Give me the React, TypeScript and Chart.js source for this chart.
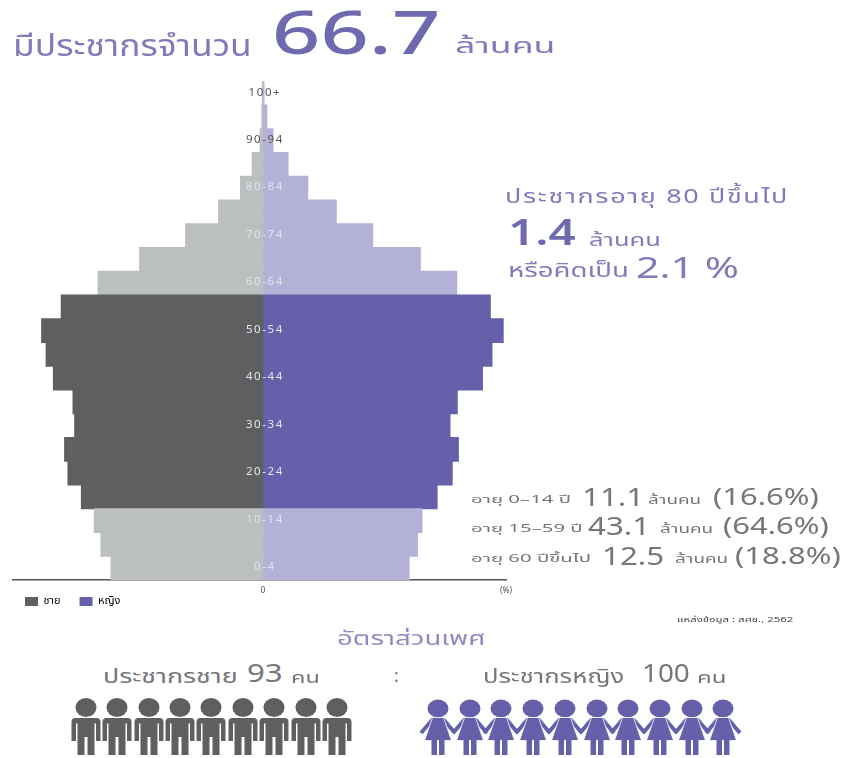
import React, { useEffect, useRef } from "react";
import { Chart, registerables } from "chart.js";

Chart.register(...registerables);

const ages = ["100+","95-99","90-94","85-89","80-84","75-79","70-74","65-69","60-64","55-59","50-54","45-49","40-44","35-39","30-34","25-29","20-24","15-19","10-14","5-9","0-4"];
const shownAges = ["100+","90-94","80-84","70-74","60-64","50-54","40-44","30-34","20-24","10-14","0-4"];
const workingAges = ["55-59","50-54","45-49","40-44","35-39","30-34","25-29","20-24","15-19"];
const malePercent = [0.01,0.02,0.05,0.19,0.40,0.79,1.38,2.20,2.94,3.60,3.95,3.87,3.74,3.39,3.36,3.54,3.48,3.24,3.01,2.89,2.71];
const femalePercent = [0.02,0.07,0.18,0.45,0.80,1.31,1.96,2.81,3.46,4.06,4.29,4.09,3.92,3.47,3.34,3.49,3.38,3.11,2.84,2.76,2.61];
const ageGroups = [["อายุ 0–14 ปี","11.1","(16.6%)"],["อายุ 15–59 ปี","43.1","(64.6%)"],["อายุ 60 ปีขึ้นไป","12.5","(18.8%)"]];
const menCount = ["m1","m2","m3","m4","m5","m6","m7","m8","m9"];
const womenCount = ["w1","w2","w3","w4","w5","w6","w7","w8","w9","w10"];

const FONT = '"Noto Sans Thai","Noto Sans","Open Sans","DejaVu Sans",sans-serif';
const GREY = "#5f5f61", PURPLE = "#6660ab", LIGHT_GREY = "#bcbfc0", LAVENDER = "#b4b1d8", TITLE = "#6f69b0", SOFT = "#807abb", BODY = "#767678";
const X_MIN = -4.47, X_MAX = 4.34;
const groupNumberX = [582, 588, 602];
const groupUnitX = [648, 660, 675];
const groupShareX = [713, 723, 735];
const groupY = [499, 528, 558];

const agePlugin = {
  id: "centerAges",
  beforeDraw(chart: any) {
    const l = chart.legend;
    const p = l.options.labels.padding;
    l.left = 25 - p;
    l.top = 596 - p;
  },
  afterDatasetsDraw(chart: any) {
    const { ctx, scales: { x, y } } = chart;
    ctx.save();
    ctx.font = `11.5px ${FONT}`;
    ctx.letterSpacing = "1.6px";
    ctx.textAlign = "center";
    ctx.textBaseline = "middle";
    shownAges.forEach((age) => {
      ctx.fillStyle = age === "100+" || age === "90-94" ? "#555" : workingAges.includes(age) ? "#e6e6ee" : "#e2e3e8";
      ctx.fillText(age, x.getPixelForValue(0) + 2, y.getPixelForValue(age));
    });
    ctx.restore();
  },
};

function Txt({ x, y, size, color = BODY, children, weight = 400, spacing = 0, sx = 1 }: any) {
  return (
    <span style={{ position: "absolute", left: x, top: y, transform: `translateY(-50%) scaleX(${sx})`, transformOrigin: "left center", fontSize: size, color, fontWeight: weight, letterSpacing: spacing, whiteSpace: "nowrap", lineHeight: 1, fontFamily: FONT }}>
      {children}
    </span>
  );
}

function Man({ cx }: { cx: number }) {
  return (
    <svg style={{ position: "absolute", left: cx - 15, top: 698 }} width={30} height={58} viewBox="0 0 30 58">
      <ellipse cx={15} cy={9.5} rx={10.5} ry={9.5} fill={GREY} />
      <path fill={GREY} d="M4.5 20H25.5Q29.5 20 29.5 24V43H25V25.5H23.5V57H16.5V39H13.5V57H6.5V25.5H5V43H0.5V24Q0.5 20 4.5 20Z" />
    </svg>
  );
}

function Woman({ cx }: { cx: number }) {
  return (
    <svg style={{ position: "absolute", left: cx - 16, top: 698, overflow: "visible" }} width={32} height={58} viewBox="0 0 32 58">
      <ellipse cx={16} cy={10.5} rx={10.5} ry={9} fill={PURPLE} />
      <path stroke={PURPLE} strokeWidth={4} d="M11 21L-1 35M21 21L33 35" />
      <path fill={PURPLE} stroke="#fff" strokeWidth={0.8} d="M10.5 19.5H21.5L29.5 42.5H2.5Z" />
      <rect x={9.5} y={42} width={5.5} height={15} fill={PURPLE} />
      <rect x={17} y={42} width={5.5} height={15} fill={PURPLE} />
    </svg>
  );
}

export default function App() {
  const ref = useRef<HTMLCanvasElement>(null);
  useEffect(() => {
    const chart = new Chart(ref.current!, {
      type: "bar",
      data: {
        labels: ages,
        datasets: [
          { label: "ชาย", data: malePercent.map((v) => -v), backgroundColor: ages.map((a) => (workingAges.includes(a) ? GREY : LIGHT_GREY)) },
          { label: "หญิง", data: femalePercent, backgroundColor: ages.map((a) => (workingAges.includes(a) ? PURPLE : LAVENDER)) },
        ],
      },
      options: {
        indexAxis: "y",
        animation: false,
        responsive: false,
        datasets: { bar: { barPercentage: 1, categoryPercentage: 1, borderWidth: 0, inflateAmount: 0.5 } },
        layout: { padding: { left: 12.5, right: 347, top: 81.3, bottom: 0 } },
        scales: {
          x: {
            stacked: true,
            min: X_MIN,
            max: X_MAX,
            grid: { display: false, drawTicks: false },
            border: { display: true, color: "#555", width: 1.5 },
            afterBuildTicks: (s: any) => { s.ticks = [{ value: 0 }, { value: X_MAX }]; },
            afterFit: (s: any) => { s.height = 16; },
            ticks: {
              autoSkip: false, maxRotation: 0, padding: 6, color: "#555",
              font: { size: 8.5, family: FONT },
              callback: (v: any) => (v === 0 ? "0" : "(%)"),
            },
          },
          y: {
            stacked: true,
            position: { x: 0 } as any,
            afterFit: (s: any) => { s.width = 0; },
            grid: { display: false },
            border: { display: true, color: "#888", width: 1 },
            ticks: { display: false },
          },
        },
        plugins: {
          title: { display: false },
          tooltip: { enabled: false },
          legend: {
            display: true,
            position: "bottom",
            align: "start",
            labels: {
              boxWidth: 13, boxHeight: 9, padding: 19, color: "#555",
              font: { size: 11, family: FONT },
              generateLabels: () => [
                { text: "ชาย", fillStyle: GREY, strokeStyle: GREY, lineWidth: 0, datasetIndex: 0 },
                { text: "หญิง", fillStyle: PURPLE, strokeStyle: PURPLE, lineWidth: 0, datasetIndex: 1 },
              ],
            },
          },
        },
      },
      plugins: [agePlugin],
    });
    return () => chart.destroy();
  }, []);

  return (
    <div style={{ position: "absolute", left: 0, top: 0, width: 853, height: 758, overflow: "hidden", background: "#fff" }}>
      <canvas ref={ref} width={853} height={636} style={{ display: "block", width: 853, height: 636 }} />
      <Txt x={13} y={47} size={30} color={SOFT} sx={1.18}>มีประชากรจำนวน</Txt>
      <Txt x={272} y={36} size={60} color={TITLE} weight={500} sx={1.41}>66.7</Txt>
      <Txt x={455} y={47} size={22} color={SOFT} sx={1.62}>ล้านคน</Txt>

      <Txt x={505} y={197} size={20} color={SOFT} spacing={1.2} sx={1.35}>ประชากรอายุ 80 ปีขึ้นไป</Txt>
      <Txt x={508} y={234} size={36} color={TITLE} weight={600} sx={1.32}>1.4</Txt>
      <Txt x={589} y={241} size={17} color={SOFT} sx={1.5}>ล้านคน</Txt>
      <Txt x={508} y={271} size={20} color={SOFT} sx={1.38}>หรือคิดเป็น</Txt>
      <Txt x={636} y={269} size={29} color={SOFT} sx={1.42}>2.1 %</Txt>

      {ageGroups.map((g, i) => (
        <React.Fragment key={g[0]}>
          <Txt x={471} y={groupY[i]} size={11} sx={1.85}>{g[0]}</Txt>
          <Txt x={groupNumberX[i]} y={groupY[i] - 1} size={25} sx={1.25}>{g[1]}</Txt>
          <Txt x={groupUnitX[i]} y={groupY[i] + 1} size={13} sx={1.45}>ล้านคน</Txt>
          <Txt x={groupShareX[i]} y={groupY[i] - 1} size={24} sx={1.29}>{g[2]}</Txt>
        </React.Fragment>
      ))}

      <Txt x={677} y={620} size={7} color="#444" sx={1.63}>แหล่งข้อมูล : สศช., 2562</Txt>
      <Txt x={337} y={639} size={20} color="#8f8ac4" sx={1.38}>อัตราส่วนเพศ</Txt>

      <Txt x={103} y={677} size={19} sx={1.41}>ประชากรชาย</Txt>
      <Txt x={247} y={674} size={26} sx={1.2}>93</Txt>
      <Txt x={291} y={678} size={16} sx={1.47}>คน</Txt>
      <Txt x={394} y={677} size={18}>:</Txt>
      <Txt x={483} y={677} size={19} sx={1.35}>ประชากรหญิง</Txt>
      <Txt x={642} y={674} size={26} sx={1.07}>100</Txt>
      <Txt x={697} y={678} size={16} sx={1.5}>คน</Txt>

      {menCount.map((id, i) => <Man key={id} cx={85.7 + i * 31.4} />)}
      {womenCount.map((id, i) => <Woman key={id} cx={438 + i * 31.7} />)}
    </div>
  );
}
